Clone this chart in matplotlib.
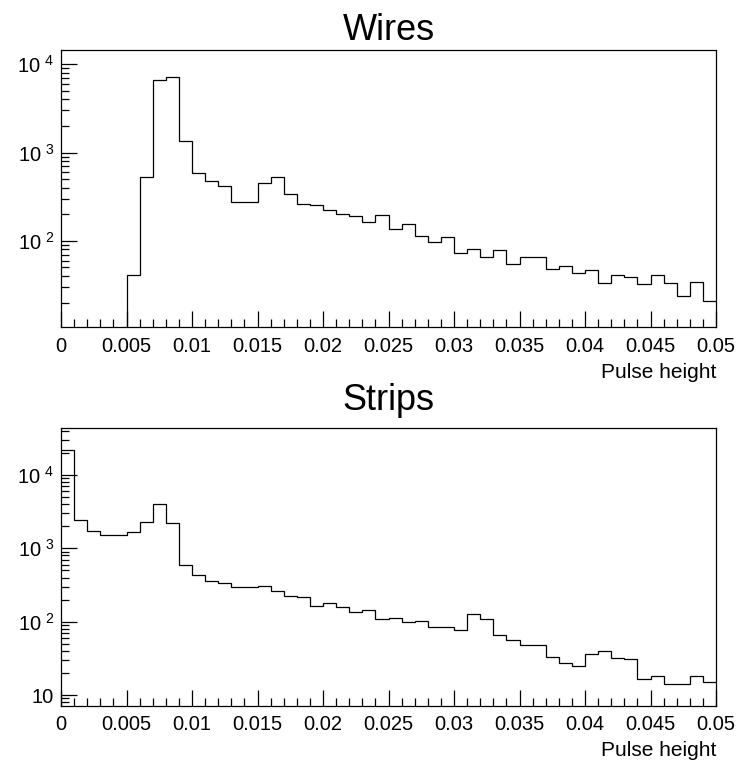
import numpy as np
import matplotlib.pyplot as plt
from matplotlib.ticker import FixedLocator, LogLocator, NullFormatter, FuncFormatter

plt.rcParams['font.family'] = ['Liberation Sans', 'DejaVu Sans']

# 50 bins of width 0.001 from 0 to 0.05
edges = np.linspace(0, 0.05, 51)

wires = [0, 0, 0, 0, 0, 40.8, 531, 6650, 7250, 1343,
         594, 473, 420, 274, 277, 450, 531, 344, 262, 258,
         224, 204, 192, 164, 195, 137, 156, 115, 98, 112,
         73.8, 81, 65.3, 78.4, 54.5, 65.9, 65.9, 48.6, 52.6, 43.8,
         46.6, 33.8, 40.8, 39.1, 32.6, 40.8, 33.8, 23.8, 34.1, 20.7]

strips = [21900, 2432, 1722, 1503, 1520, 1652, 2310, 3980, 2215, 586,
          437, 355, 340, 300, 300, 310, 259, 224, 215, 164,
          178, 158, 135, 144, 109, 111, 100, 101, 83.7, 85.5,
          77, 128.6, 110, 66.5, 55.6, 48.5, 48.5, 32.6, 27.3, 24.6,
          35.9, 39.8, 31.6, 30.6, 16.5, 18.4, 14.3, 14.3, 18.4, 15.3]

xticks = [0, 0.005, 0.01, 0.015, 0.02, 0.025, 0.03, 0.035, 0.04, 0.045, 0.05]
xticklabels = ['0', '0.005', '0.01', '0.015', '0.02', '0.025', '0.03',
               '0.035', '0.04', '0.045', '0.05']


def ylab(v, pos):
    e = int(round(np.log10(v)))
    if e == 1:
        return '10'
    return r'$\mathregular{10^{\,\,%d}}$' % e


def style(ax, ylim, title, pad):
    ax.set_yscale('log')
    ax.set_xlim(0, 0.05)
    ax.set_ylim(*ylim)
    ax.set_title(title, fontsize=26, pad=pad)
    ax.xaxis.set_major_locator(FixedLocator(xticks))
    ax.set_xticklabels(xticklabels)
    ax.xaxis.set_minor_locator(FixedLocator(edges))
    ax.yaxis.set_major_locator(LogLocator(base=10))
    ax.yaxis.set_minor_locator(LogLocator(base=10, subs=np.arange(2, 10)))
    ax.yaxis.set_major_formatter(FuncFormatter(ylab))
    ax.yaxis.set_minor_formatter(NullFormatter())
    ax.tick_params(which='both', direction='in', top=False, right=False,
                   width=0.9, color='black')
    ax.tick_params(which='major', length=11.5, labelsize=14.5)
    ax.tick_params(which='minor', length=5.5)
    ax.tick_params(axis='x', which='major', pad=7)
    ax.tick_params(axis='y', which='major', pad=5)
    ax.set_xlabel('Pulse height', fontsize=15, loc='right', labelpad=5)
    for s in ax.spines.values():
        s.set_linewidth(0.9)


fig = plt.figure(figsize=(7.43, 7.67), dpi=100)

ax1 = fig.add_axes([61 / 743, 1 - 327 / 767, 655 / 743, 277 / 767])
ax1.stairs(wires, edges, baseline=None, color='black', lw=0.9)
style(ax1, (10.6, 14500), 'Wires', 7)

ax2 = fig.add_axes([61 / 743, 1 - 705.7 / 767, 655 / 743, 277.4 / 767])
ax2.stairs(strips, edges, baseline=None, color='black', lw=0.9)
style(ax2, (7.16, 43300), 'Strips', 13)

fig.savefig('out.png', dpi=100)
